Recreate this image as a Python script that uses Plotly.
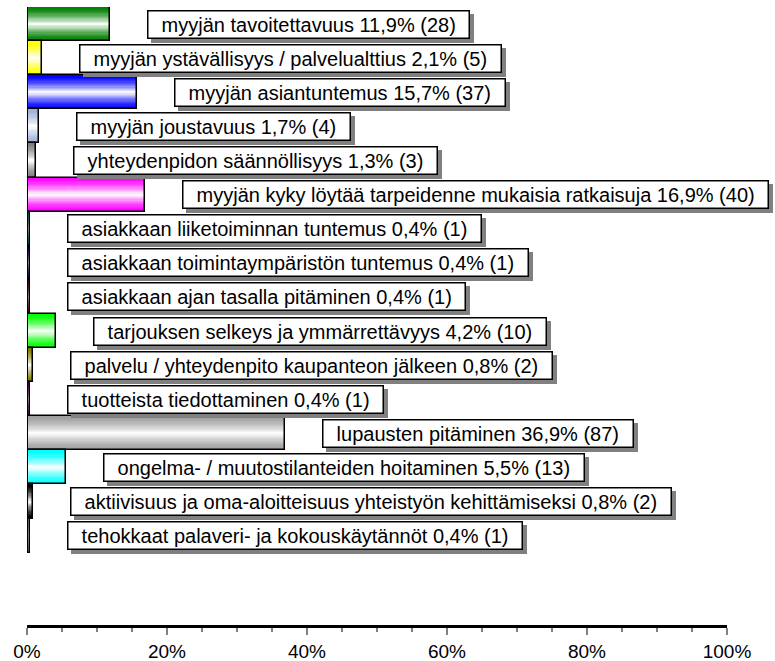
import plotly.graph_objects as go

# Survey answers: share of respondents (%) and counts per item
categories = [
    "myyjän tavoitettavuus",
    "myyjän ystävällisyys / palvelualttius",
    "myyjän asiantuntemus",
    "myyjän joustavuus",
    "yhteydenpidon säännöllisyys",
    "myyjän kyky löytää tarpeidenne mukaisia ratkaisuja",
    "asiakkaan liiketoiminnan tuntemus",
    "asiakkaan toimintaympäristön tuntemus",
    "asiakkaan ajan tasalla pitäminen",
    "tarjouksen selkeys ja ymmärrettävyys",
    "palvelu / yhteydenpito kaupanteon jälkeen",
    "tuotteista tiedottaminen",
    "lupausten pitäminen",
    "ongelma- / muutostilanteiden hoitaminen",
    "aktiivisuus ja oma-aloitteisuus yhteistyön kehittämiseksi",
    "tehokkaat palaveri- ja kokouskäytännöt",
]
percents = [11.9, 2.1, 15.7, 1.7, 1.3, 16.9, 0.4, 0.4, 0.4, 4.2, 0.8, 0.4, 36.9, 5.5, 0.8, 0.4]
counts = [28, 5, 37, 4, 3, 40, 1, 1, 1, 10, 2, 1, 87, 13, 2, 1]
bar_colors = [
    "#008000", "#FFFF00", "#0000FF", "#9FB2D8", "#808080", "#FF00FF",
    "#008080", "#000080", "#800000", "#00FF00", "#808000", "#800080",
    "#A0A0A0", "#00FFFF", "#000000", "#90C090",
]
tick_values = [0, 20, 40, 60, 80, 100]
tick_labels = ["0%", "20%", "40%", "60%", "80%", "100%"]

FONT = "Arial, Liberation Sans, sans-serif"
positions = list(range(len(categories)))


def hex_to_rgb(h):
    h = h.lstrip("#")
    return tuple(int(h[i:i + 2], 16) for i in (0, 2, 4))


def blend(h, t):
    r, g, b = hex_to_rgb(h)
    return "rgb(%d,%d,%d)" % (r + (255 - r) * t, g + (255 - g) * t, b + (255 - b) * t)


fig = go.Figure()

# Banded fill: stacked overlays get narrower and lighter toward the bar centre
layers = 14
for k in range(layers):
    frac = k / (layers - 1)
    fig.add_trace(go.Bar(
        x=percents, y=positions, orientation="h",
        width=1.0 - 0.94 * frac,
        marker=dict(color=[blend(c, 0.97 * frac ** 1.4) for c in bar_colors], line=dict(width=0)),
        hoverinfo="skip", showlegend=False,
    ))

# Outline on top of the fill
fig.add_trace(go.Bar(
    x=percents, y=positions, orientation="h", width=1.0,
    marker=dict(color="rgba(0,0,0,0)", line=dict(color="black", width=1.5)),
    hoverinfo="skip", showlegend=False,
))

# Boxed value labels (the drop shadow is added by the style rule below)
annotations = []
pad = "\u00a0\u00a0"
for cat, p, n, y in zip(categories, percents, counts, positions):
    text = pad + f"{cat} {p:.1f}".replace(".", ",") + f"% ({n})" + pad
    annotations.append(dict(
        x=p, y=y, xref="x", yref="y", xanchor="left", yanchor="middle",
        xshift=37, showarrow=False, text=text,
        font=dict(family=FONT, size=20, color="black"),
        bgcolor="white", bordercolor="black", borderwidth=1.5, borderpad=2,
    ))

fig.update_layout(
    width=775, height=661,
    margin=dict(l=27, r=48, t=7, b=36),
    paper_bgcolor="white", plot_bgcolor="white",
    barmode="overlay", bargap=0,
    annotations=annotations,
    shapes=[dict(type="line", xref="x", yref="y", x0=0, x1=0, y0=-0.5, y1=len(categories) - 0.5,
                 line=dict(color="black", width=2))],
    xaxis=dict(
        range=[0, 100], tickvals=tick_values, ticktext=tick_labels,
        showgrid=False, zeroline=False, automargin=False,
        showline=True, linecolor="black", linewidth=3,
        ticks="outside", ticklen=7, tickwidth=1.5, tickcolor="#808080",
        minor=dict(dtick=5, ticks="outside", ticklen=4, tickwidth=1.5, tickcolor="#808080"),
        tickfont=dict(family=FONT, size=19, color="black"),
        fixedrange=True,
    ),
    yaxis=dict(
        range=[len(categories) + 1.62, -0.5], visible=False, fixedrange=True,
    ),
)

shadow_css = (
    "var s=document.createElement('style');"
    "s.textContent='.annotation rect.bg{filter:drop-shadow(4px 4px 0 #808080);}';"
    "document.head.appendChild(s);"
)

fig.write_html("out.html", post_script=shadow_css)
